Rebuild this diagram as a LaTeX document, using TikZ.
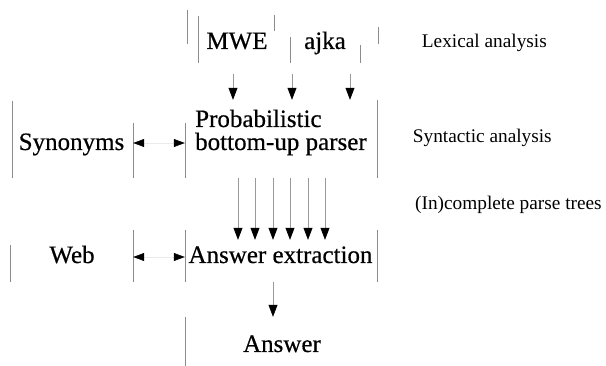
\documentclass[tikz,border=0pt]{standalone}
\usepackage{fontspec}
\setmainfont{Liberation Serif}
\newfontfamily\labfont[FakeBold=0.5]{Liberation Serif}
\usetikzlibrary{arrows.meta}
\begin{document}
\begin{tikzpicture}[x=1pt,y=-1pt,
  boxedge/.style={draw=black!45,line width=0.6pt},
  box/.style={rectangle,draw=none,inner sep=0pt},
  big/.style={font=\labfont\fontsize{25}{23}\selectfont,inner sep=0pt,anchor=base},
  bigw/.style={font=\labfont\fontsize{25}{23}\selectfont,inner sep=0pt,anchor=base west},
  side/.style={font=\fontsize{19.3}{22}\selectfont,inner sep=0pt,anchor=base west},
  arr/.style={draw=black!40,line width=0.6pt,-{Triangle[length=12pt,width=9pt,color=black]}},
  harr/.style={draw=black!8,line width=0.5pt,{Triangle[length=11pt,width=8pt,color=black]}-{Triangle[length=11pt,width=8pt,color=black]}}]
\useasboundingbox (0,0) rectangle (606,366);

% boxes (invisible shapes, edges drawn as seen)
\node[box,minimum width=191pt,minimum height=62pt] (lex) at (282.5,39) {};
\node[box,minimum width=76pt,minimum height=48pt] (mwe) at (236,39) {};
\node[box,minimum width=70pt,minimum height=43pt] (ajka) at (325,41.5) {};
\node[box,minimum width=192pt,minimum height=78pt] (parser) at (281,139) {};
\node[box,minimum width=121pt,minimum height=78pt] (syn) at (72.5,139) {};
\node[box,minimum width=123pt,minimum height=52pt] (web) at (71.5,256) {};
\node[box,minimum width=192pt,minimum height=52pt] (ext) at (281,256) {};
\node[box,minimum width=194pt,minimum height=56pt] (ans) at (282,345) {};

% visible box edges
\draw[boxedge] (187,10) -- (187,44);
\draw[boxedge] (378,27) -- (378,44);
\draw[boxedge] (198,16) -- (198,63);
\draw[boxedge] (274,15) -- (274,31);
\draw[boxedge] (290,37) -- (290,63);
\draw[boxedge] (360,45) -- (360,63);
\draw[boxedge] (12,101) -- (12,178);
\draw[boxedge] (133,123) -- (133,178);
\draw[boxedge] (185,123) -- (185,178);
\draw[boxedge] (377,100) -- (377,178);
\draw[boxedge] (10,245) -- (10,282);
\draw[boxedge] (133,230) -- (133,282);
\draw[boxedge] (185,230) -- (185,282);
\draw[boxedge] (377,230) -- (377,282);
\draw[boxedge] (185,317) -- (185,366);

% texts
\node[big] (mwet) at (237,49) {MWE};
\node[big] (ajkat) at (325,49) {ajka};
\node[big] (synt) at (71.5,150) {Synonyms};
\node[bigw] (part1) at (195,127) {Probabilistic};
\node[bigw] (part2) at (195,150) {bottom-up parser};
\node[big] (webt) at (72,263) {Web};
\node[big] (extt) at (280.5,263) {Answer extraction};
\node[big] (anst) at (282,352) {Answer};

\node[side] (l1) at (421.7,48) {Lexical analysis};
\node[side] (l2) at (412.7,143) {Syntactic analysis};
\node[side] (l3) at (415,210) {(In)complete parse trees};

% x positions of arrows
\coordinate (a1) at (233,0);
\coordinate (a2) at (292,0);
\coordinate (a3) at (350,0);
\coordinate (p1) at (238,0);
\coordinate (p2) at (255,0);
\coordinate (p3) at (273,0);
\coordinate (p4) at (290,0);
\coordinate (p5) at (308,0);
\coordinate (p6) at (325,0);
\coordinate (q1) at (273,0);

% connectors
\draw[arr,shorten <=11pt] (mwe.south -| a1) -- (parser.north -| a1);
\draw[arr,shorten <=11pt] (ajka.south -| a2) -- (parser.north -| a2);
\draw[arr,shorten <=11pt] (ajka.south -| a3) -- (parser.north -| a3);

\foreach \p in {p1,p2,p3,p4,p5,p6}
  \draw[arr,shorten >=-10pt] (parser.south -| \p) -- (ext.north -| \p);

\draw[arr] (ext.south -| q1) -- (ans.north -| q1);

\draw[harr] ([yshift=-4pt]syn.east) -- ([yshift=-4pt]parser.west);
\draw[harr] ([yshift=-1pt]web.east) -- ([yshift=-1pt]ext.west);
\end{tikzpicture}
\end{document}
